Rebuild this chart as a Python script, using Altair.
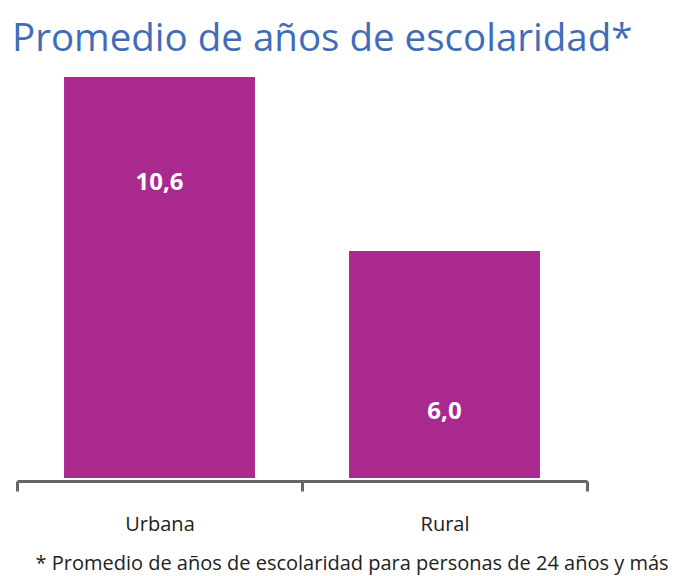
import altair as alt
import pandas as pd

categories = ["Urbana", "Rural"]
values = [10.6, 6.0]
value_labels = ["10,6", "6,0"]

df = pd.DataFrame({"zona": categories, "valor": values, "etiqueta": value_labels})

BAR = "#A9298F"
FONT = "Open Sans"

x = alt.X(
    "zona:N",
    sort=categories,
    scale=alt.Scale(paddingInner=0, paddingOuter=0),
    axis=alt.Axis(
        title="* Promedio de años de escolaridad para personas de 24 años y más",
        titleFont=FONT, titleFontSize=20, titleFontWeight="normal", titleColor="#222222",
        titleX=18, titleY=88, titleAlign="left", titleBaseline="alphabetic",
        labelFont=FONT, labelFontSize=20, labelColor="#222222", labelPadding=23, labelAngle=0,
        domainColor="#666666", domainWidth=3, tickColor="#666666", tickWidth=3, tickSize=10,
        tickBand="extent", offset=3,
    ),
)
y = alt.Y("valor:Q", scale=alt.Scale(domain=[0, 10.6], nice=False), axis=None)

bars = alt.Chart(df).mark_bar(color=BAR, width=alt.RelativeBandSize(0.67)).encode(x=x, y=y)

txt_u = alt.Chart(df).transform_filter(alt.datum.zona == "Urbana").mark_text(
    color="white", font=FONT, fontSize=24, fontWeight="bold", baseline="middle", dy=106
).encode(x=alt.X("zona:N", sort=categories), y=y, text="etiqueta:N")
txt_r = alt.Chart(df).transform_filter(alt.datum.zona == "Rural").mark_text(
    color="white", font=FONT, fontSize=24, fontWeight="bold", baseline="middle", dy=161
).encode(x=alt.X("zona:N", sort=categories), y=y, text="etiqueta:N")

chart = alt.layer(bars, txt_u, txt_r).properties(
    width=570,
    height=401,
    autosize=alt.AutoSizeParams(type="none"),
    padding={"left": 9, "top": 69, "right": 91, "bottom": 98},
    title=alt.TitleParams(
        "Promedio de años de escolaridad*",
        anchor="start", frame="group", font=FONT, fontSize=38.5, fontWeight="normal",
        color="#3F6DB8", baseline="alphabetic", offset=30, dx=-5, dy=42,
    ),
).configure(background="white", view=alt.ViewConfig(stroke=None))

chart.save("out.html", embed_options={"renderer": "svg", "actions": False})
